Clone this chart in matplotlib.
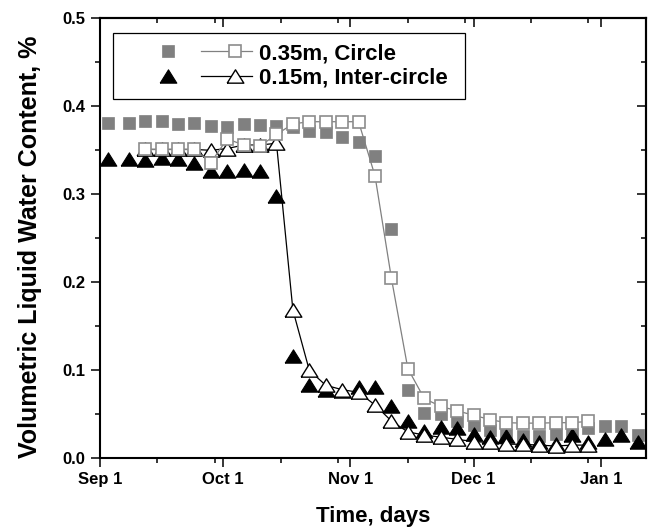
import matplotlib
matplotlib.use("Agg")
import matplotlib.pyplot as plt
from matplotlib.lines import Line2D
from matplotlib.legend_handler import HandlerBase
from matplotlib.ticker import FixedLocator, MultipleLocator, FormatStrFormatter

plt.rcParams['font.family'] = ['Liberation Sans', 'DejaVu Sans']
plt.rcParams['font.weight'] = 'bold'
plt.rcParams['axes.labelweight'] = 'bold'

# ---------------------------------------------------------------------------
#  DATA  (days counted from Sep 1)
# ---------------------------------------------------------------------------
days_meas = [2, 7, 11, 15, 19, 23, 27, 31, 35, 39, 43, 47, 51, 55, 59, 63, 67,
             71, 75, 79, 83, 87, 91, 95, 99, 103, 107, 111, 115, 119, 123, 127, 131]
circle_meas = [0.381, 0.381, 0.383, 0.383, 0.380, 0.381, 0.378, 0.377, 0.380,
               0.379, 0.378, 0.377, 0.372, 0.371, 0.365, 0.359, 0.343, 0.261,
               0.078, 0.051, 0.050, 0.042, 0.038, 0.032, 0.027, 0.025, 0.025,
               0.028, 0.028, 0.034, 0.037, 0.037, 0.027]
inter_meas = [0.340, 0.340, 0.339, 0.341, 0.340, 0.336, 0.327, 0.326, 0.328,
              0.326, 0.298, 0.116, 0.083, 0.078, 0.077, 0.081, 0.081, 0.060,
              0.042, 0.031, 0.036, 0.035, 0.028, 0.024, 0.025, 0.021, 0.018,
              0.016, 0.026, 0.018, 0.022, 0.026, 0.019]

days_model = [11, 15, 19, 23, 27, 31, 35, 39, 43, 47, 51, 55, 59, 63, 67, 71,
              75, 79, 83, 87, 91, 95, 99, 103, 107, 111, 115, 119]
circle_model = [0.351, 0.351, 0.351, 0.351, 0.336, 0.363, 0.356, 0.355, 0.368,
                0.380, 0.3825, 0.3825, 0.3825, 0.3825, 0.321, 0.2045, 0.102,
                0.068, 0.059, 0.054, 0.049, 0.044, 0.0405, 0.040, 0.040,
                0.0405, 0.0405, 0.042]
inter_model = [0.351, 0.351, 0.351, 0.351, 0.350, 0.352, 0.356, 0.356, 0.358,
               0.1685, 0.100, 0.083, 0.078, 0.075, 0.0606, 0.0424, 0.030,
               0.0265, 0.024, 0.0216, 0.019, 0.018, 0.016, 0.016, 0.015,
               0.014, 0.015, 0.015]

month_ticks = [0, 30, 61, 91, 122]
month_labels = ['Sep 1', 'Oct 1', 'Nov 1', 'Dec 1', 'Jan 1']
minor_ticks = [14, 28, 44, 58, 75, 89, 105, 119]

label_circle = '0.35m, Circle'
label_inter = '0.15m, Inter-circle'

# wide, flat triangle like the original
tri = [(-1, -0.8), (1, -0.8), (0, 0.8), (-1, -0.8)]


class PairHandler(HandlerBase):
    """filled marker, then a short line with the open marker"""
    def create_artists(self, legend, orig_handle, xdescent, ydescent,
                       width, height, fontsize, trans):
        filled, opened = orig_handle
        y = height / 2 - ydescent
        x0 = -xdescent
        m1 = Line2D([x0 + 0.35 * width], [y])
        m1.update_from(filled)
        ln = Line2D([x0 + 0.60 * width, x0 + width], [y, y])
        ln.update_from(opened)
        ln.set_marker('None')
        m2 = Line2D([x0 + 0.87 * width], [y])
        m2.update_from(opened)
        m2.set_linestyle('None')
        for a in (m1, ln, m2):
            a.set_transform(trans)
        return [m1, ln, m2]


fig = plt.figure(figsize=(6.49, 5.29), dpi=100)
ax = fig.add_axes([0.154, 0.1336, 0.8413, 0.8318])

h1, = ax.plot(days_meas, circle_meas, ls='none', marker='s', ms=9,
              mfc='#808080', mec='#808080', mew=0.5, zorder=2)
h2, = ax.plot(days_meas, inter_meas, ls='none', marker=tri, ms=12,
              mfc='black', mec='black', mew=0.8, zorder=3)
h4, = ax.plot(days_model, inter_model, ls='-', lw=0.9, color='black',
              marker=tri, ms=12, mfc='white', mec='black', mew=1.0, zorder=4)
h3, = ax.plot(days_model, circle_model, ls='-', lw=0.9, color='#808080',
              marker='s', ms=8.5, mfc='white', mec='#8c8c8c', mew=1.2, zorder=5)

ax.set_xlim(0, 133)
ax.set_ylim(0, 0.5)
ax.set_xticks(month_ticks)
ax.set_xticklabels(month_labels)
ax.xaxis.set_minor_locator(FixedLocator(minor_ticks))
ax.yaxis.set_major_locator(MultipleLocator(0.1))
ax.yaxis.set_minor_locator(MultipleLocator(0.05))
ax.yaxis.set_major_formatter(FormatStrFormatter('%.1f'))

for s in ax.spines.values():
    s.set_linewidth(1.5)
ax.tick_params(which='major', direction='out', length=6.5, width=1.1,
               labelsize=12, pad=3)
ax.tick_params(which='minor', direction='out', length=3.5, width=1.1)
ax.tick_params(axis='y', which='major', pad=4)

# inward ticks on the top and right sides
secx = ax.secondary_xaxis('top')
secx.set_xticks(month_ticks)
secx.xaxis.set_minor_locator(FixedLocator(minor_ticks))
secx.tick_params(which='major', direction='in', length=6.5, width=1.1, labeltop=False)
secx.tick_params(which='minor', direction='in', length=3.5, width=1.1)
secx.spines['top'].set_linewidth(1.5)
secy = ax.secondary_yaxis('right')
secy.yaxis.set_major_locator(MultipleLocator(0.1))
secy.yaxis.set_minor_locator(MultipleLocator(0.05))
secy.tick_params(which='major', direction='in', length=6.5, width=1.1, labelright=False)
secy.tick_params(which='minor', direction='in', length=3.5, width=1.1)
secy.spines['right'].set_linewidth(1.5)

ax.set_xlabel('Time, days', fontsize=16, fontweight='bold', labelpad=14)
ax.set_ylabel('Volumetric Liquid Water Content, %', fontsize=18,
              fontweight='bold', labelpad=15)
ax.yaxis.label.set_y(0.48)

leg = ax.legend([(h1, h3), (h2, h4)], [label_circle, label_inter],
                handler_map={tuple: PairHandler()},
                loc='upper left', bbox_to_anchor=(0.0244, 0.5, 0.644, 0.466),
                mode='expand', borderaxespad=0, fontsize=16, handlelength=5.8,
                handletextpad=0.3, labelspacing=0.15, borderpad=0.45,
                fancybox=False, framealpha=1, edgecolor='black',
                prop={'weight': 'bold', 'size': 16})
leg.get_frame().set_linewidth(0.9)

fig.savefig('out.png', dpi=100)
